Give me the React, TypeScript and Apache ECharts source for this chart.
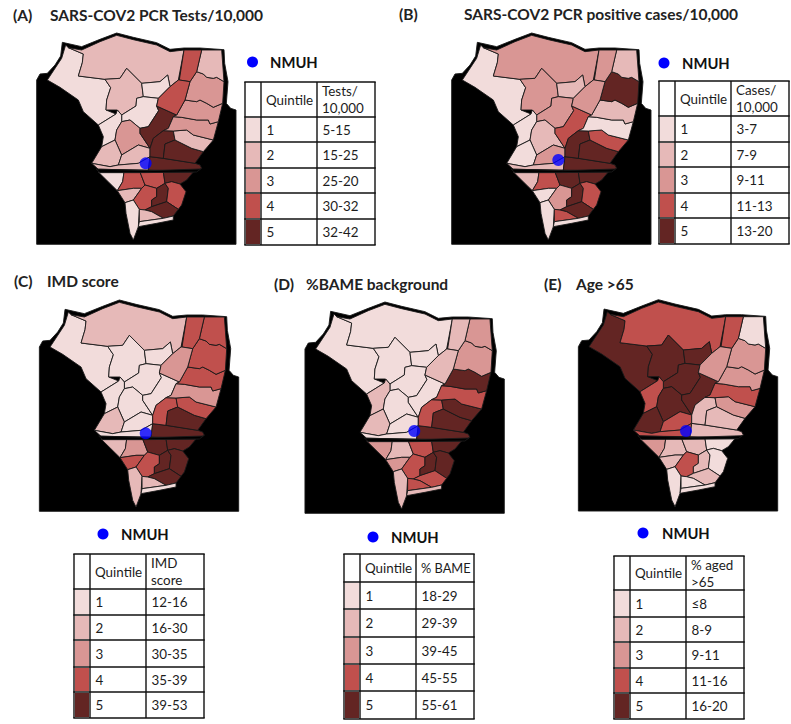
import React, { useEffect, useRef } from "react";
import * as echarts from "echarts";

const COLORS = ["#000000", "#f2dcdb", "#e6b9b8", "#d99694", "#c0504d", "#632523"];

const MASK = [[110,733],[110,240],[120,222],[142,220],[165,195],[182,168],[187,127],[245,140],[300,118],[350,99],[400,112],[470,128],[510,148],[552,144],[600,144],[672,149],[674,190],[684,245],[679,310],[692,325],[708,330],[708,733]];
const RIVER = [[288,507],[445,512],[602,507],[590,516],[420,518],[300,518]];

const REGION_NAMES = ["r1","r2","r3","r4","r5","r6","r7","r8","r9","r10","r11","r12","r13","r14","r15","r16","r17","r18","r19","r20","r21","s1","s2","s3","s4","s5","s6","s7","s8","s9","s10","s11","s12"];
const REGION_RINGS = [
  [[197,135],[205,143],[250,162],[247,188],[235,228],[315,238],[332,263],[320,300],[318,330],[348,342],[295,375],[250,335],[235,300],[180,262],[142,240],[185,175]],
  [[205,143],[245,150],[300,125],[350,106],[400,119],[470,135],[510,155],[552,150],[535,240],[510,260],[503,225],[480,245],[425,250],[380,205],[360,235],[315,238],[235,228],[247,188],[250,162]],
  [[380,205],[425,250],[430,290],[410,295],[408,318],[365,345],[352,330],[318,330],[320,300],[332,263],[315,238],[360,235]],
  [[425,250],[480,245],[503,225],[510,260],[475,295],[430,290]],
  [[430,290],[475,295],[470,318],[476,332],[445,380],[420,385],[390,360],[365,365],[365,345],[408,318],[410,295]],
  [[348,342],[352,330],[365,345],[365,365],[350,390],[345,420],[305,440],[310,410],[295,375]],
  [[390,360],[420,385],[420,400],[450,445],[415,435],[365,465],[345,420],[350,390],[365,365]],
  [[470,318],[530,345],[520,350],[505,385],[490,392],[460,415],[450,445],[420,400],[420,385],[445,380],[476,332]],
  [[305,440],[345,420],[365,465],[355,495],[330,500],[275,490]],
  [[365,465],[415,435],[450,445],[450,470],[415,490],[355,495]],
  [[275,490],[330,500],[355,495],[415,490],[450,470],[445,510],[295,508]],
  [[450,470],[490,475],[585,490],[600,495],[605,505],[585,515],[445,510]],
  [[450,445],[460,415],[490,392],[520,393],[525,420],[495,432],[490,475],[450,470]],
  [[495,432],[525,420],[545,430],[575,445],[610,455],[585,490],[490,475]],
  [[520,393],[560,390],[580,405],[640,420],[610,455],[575,445],[545,430],[525,420]],
  [[520,350],[545,352],[590,360],[625,360],[630,372],[655,365],[640,420],[580,405],[560,390],[520,393],[490,392],[505,385]],
  [[555,300],[590,305],[600,300],[620,310],[640,322],[668,310],[655,365],[630,372],[625,360],[590,360],[545,352],[520,350],[530,345]],
  [[590,215],[610,222],[620,232],[640,235],[650,232],[672,245],[668,310],[640,322],[620,310],[600,300],[590,305],[555,300],[570,245]],
  [[605,150],[665,150],[672,245],[650,232],[640,235],[620,232],[610,222],[590,215]],
  [[552,150],[605,150],[590,215],[570,245],[538,240]],
  [[475,295],[510,260],[535,240],[538,240],[570,245],[555,300],[530,345],[470,318]],
  [[295,516],[372,516],[368,545],[352,572]],
  [[372,516],[420,516],[435,555],[425,565],[400,565],[352,572],[368,545]],
  [[420,516],[490,516],[495,550],[470,565],[435,555]],
  [[490,516],[580,516],[560,540],[540,552],[515,545],[495,550]],
  [[352,572],[400,565],[425,565],[400,600],[375,608]],
  [[425,565],[435,555],[470,565],[470,590],[455,600],[455,620],[435,630],[418,628],[400,600]],
  [[470,565],[495,550],[505,565],[500,605],[455,620],[455,600],[470,590]],
  [[505,565],[495,550],[515,545],[540,552],[558,575],[545,615],[535,628],[500,605]],
  [[455,620],[500,605],[535,628],[520,648],[490,655],[455,635],[435,630]],
  [[375,608],[400,600],[418,628],[415,680],[400,720],[390,700],[378,640]],
  [[418,628],[435,630],[455,635],[490,655],[418,665]],
  [[418,665],[490,655],[520,648],[520,660],[470,670],[415,680]],
];

const QUINTILES_A = [1,2,2,1,1,1,3,5,2,2,2,5,5,5,2,3,3,3,2,4,4,1,4,4,5,2,4,5,4,5,1,2,1];
const QUINTILES_B = [1,3,3,2,3,1,2,4,1,3,2,5,5,5,4,1,2,5,2,3,3,2,4,5,5,1,3,5,4,5,1,4,1];
const QUINTILES_C = [1,2,1,1,1,1,1,1,2,1,1,5,4,5,4,3,4,4,4,4,3,2,3,5,5,4,4,5,5,5,2,2,1];
const QUINTILES_D = [1,1,1,1,1,2,1,1,2,1,1,5,4,5,5,4,5,3,3,2,2,3,2,4,5,3,4,5,5,4,2,4,2];
const QUINTILES_E = [5,4,5,5,5,4,5,5,5,4,4,2,2,2,3,4,3,3,1,4,3,3,2,2,1,2,4,2,1,2,1,1,1];

const QUINTILE_LABELS = ["1","2","3","4","5"];
const RANGES_A = ["5-15","15-25","25-20","30-32","32-42"];
const RANGES_B = ["3-7","7-9","9-11","11-13","13-20"];
const RANGES_C = ["12-16","16-30","30-35","35-39","39-53"];
const RANGES_D = ["18-29","29-39","39-45","45-55","55-61"];
const RANGES_E = ["≤8","8-9","9-11","11-16","16-20"];

const PANELS = [
  { letter:"(A)", title:"SARS-COV2 PCR Tests/10,000", lx:13, ly:15, tx:50, ty:15, off:[0,0], dot:[437,490], q:QUINTILES_A, legend:[252.5,62,270], head:["Tests/","10,000"], ranges:RANGES_A, cols:[245,261,317,375], rows:[82,117,142,168,193,219,245] },
  { letter:"(B)", title:"SARS-COV2 PCR positive cases/10,000", lx:399, ly:14, tx:464, ty:14, off:[415,0], dot:[430,480], q:QUINTILES_B, legend:[664,63,682], head:["Cases/","10,000"], ranges:RANGES_B, cols:[659,675,731,789], rows:[81,116,142,167,193,218,244] },
  { letter:"(C)", title:"IMD score", lx:14, ly:281, tx:47, ty:281, off:[2.7,267], dot:[429,499], q:QUINTILES_C, legend:[103,534,121], head:["IMD","score"], ranges:RANGES_C, cols:[74,90,146,204], rows:[554,589,615,640,667,692,718] },
  { letter:"(D)", title:"%BAME background", lx:274, ly:284, tx:306, ty:284, off:[268.3,269], dot:[438,486], q:QUINTILES_D, legend:[373,537,391], head:["% BAME"], ranges:RANGES_D, cols:[344,360,416,474], rows:[554,582,609,637,664,691,719] },
  { letter:"(E)", title:"Age >65", lx:544, ly:284, tx:576, ty:284, off:[541.7,266.7], dot:[433,493], q:QUINTILES_E, legend:[643,533,662], head:["% aged",">65"], ranges:RANGES_E, cols:[614,630,686,744], rows:[556,590,617,642,668,693,719] },
];

const FONT = "Lato, 'Open Sans', sans-serif";
const INK = "#1c1c1c";

function flip(ring: number[][]) {
  const r = ring.map(([x, y]) => [x, -y]);
  r.push(r[0]);
  return [r];
}

function buildGeo() {
  const feature = (name: string, ring: number[][]) => ({
    type: "Feature",
    properties: { name },
    geometry: { type: "Polygon", coordinates: flip(ring) },
  });
  return {
    type: "FeatureCollection",
    features: [
      feature("mask", MASK),
      ...REGION_NAMES.map((n, i) => feature(n, REGION_RINGS[i])),
      feature("river", RIVER),
    ],
  };
}

function tableGraphics(p: any) {
  const out: any[] = [];
  const [c0, c1, c2, c3] = p.cols;
  const rows = p.rows;
  p.ranges.forEach((range: string, i: number) => {
    const y0 = rows[i + 1], y1 = rows[i + 2], mid = (y0 + y1) / 2;
    out.push({ type: "rect", shape: { x: c0 + 1, y: y0 + 1, width: c1 - c0 - 2, height: y1 - y0 - 2 }, style: { fill: COLORS[i + 1] } });
    out.push({ type: "text", style: { text: QUINTILE_LABELS[i], x: c1 + 5.5, y: mid, font: `13.4px ${FONT}`, fill: INK, verticalAlign: "middle" } });
    out.push({ type: "text", style: { text: range, x: c2 + 5.5, y: mid, font: `13.4px ${FONT}`, fill: INK, verticalAlign: "middle" } });
  });
  const hMid = (rows[0] + rows[1]) / 2;
  out.push({ type: "text", style: { text: "Quintile", x: c1 + 5, y: hMid, font: `13.4px ${FONT}`, fill: INK, verticalAlign: "middle" } });
  p.head.forEach((h: string, i: number) => {
    const y = p.head.length === 1 ? hMid : hMid + (i === 0 ? -8.5 : 8.5);
    const size = p.head.length === 1 ? 12.8 : 13.4;
    out.push({ type: "text", style: { text: h, x: c2 + 5, y, font: `${size}px ${FONT}`, fill: INK, verticalAlign: "middle" } });
  });
  const stroke = { stroke: "#111", lineWidth: 1.4 };
  rows.forEach((y: number) => out.push({ type: "line", shape: { x1: c0 - 0.7, y1: y, x2: c3 + 0.7, y2: y }, style: stroke }));
  p.cols.forEach((x: number) => out.push({ type: "line", shape: { x1: x, y1: rows[0], x2: x, y2: rows[6] }, style: stroke }));
  return out;
}

export default function App() {
  const ref = useRef<HTMLDivElement>(null);
  useEffect(() => {
    echarts.registerMap("nwl", buildGeo() as any);
    const chart = echarts.init(ref.current!, undefined, { renderer: "svg" });
    const cx = (110 + 708) / 6, cy = (99 + 733) / 6;
    const geo = PANELS.map((p) => ({
      map: "nwl",
      roam: false,
      silent: true,
      aspectScale: 1,
      layoutCenter: [cx + p.off[0], cy + p.off[1]],
      layoutSize: (733 - 99) / 3,
      label: { show: false },
      itemStyle: { borderColor: "#1a1a1a", borderWidth: 0.9, areaColor: "#000" },
      emphasis: { disabled: true },
      select: { disabled: true },
    }));
    const maps = PANELS.map((p, i) => ({
      type: "map",
      geoIndex: i,
      silent: true,
      data: [
        { name: "mask", value: 0 },
        ...REGION_NAMES.map((n, k) => ({ name: n, value: p.q[k] })),
        { name: "river", value: 0 },
      ],
    }));
    const dots = PANELS.map((p, i) => ({
      type: "scatter",
      coordinateSystem: "geo",
      geoIndex: i,
      silent: true,
      symbolSize: 12,
      itemStyle: { color: "#0000ff" },
      data: [[p.dot[0], -p.dot[1]]],
      z: 5,
    }));
    const graphic: any[] = [];
    PANELS.forEach((p) => {
      graphic.push({ type: "text", style: { text: p.letter, x: p.lx, y: p.ly, font: `bold 15.5px ${FONT}`, fill: "#222", verticalAlign: "middle" } });
      graphic.push({ type: "text", style: { text: p.title, x: p.tx, y: p.ty, font: `bold 15.5px ${FONT}`, fill: "#222", verticalAlign: "middle" } });
      graphic.push({ type: "circle", shape: { cx: p.legend[0], cy: p.legend[1], r: 5.5 }, style: { fill: "#0000ff" } });
      graphic.push({ type: "text", style: { text: "NMUH", x: p.legend[2], y: p.legend[1], font: `bold 14.8px ${FONT}`, fill: "#111", verticalAlign: "middle" } });
      graphic.push(...tableGraphics(p));
    });
    chart.setOption({
      animation: false,
      backgroundColor: "#ffffff",
      geo,
      visualMap: {
        type: "piecewise",
        show: false,
        seriesIndex: [0, 1, 2, 3, 4],
        pieces: COLORS.map((color, value) => ({ value, color })),
      },
      series: [...maps, ...dots],
      graphic,
    } as any);
    return () => chart.dispose();
  }, []);
  return <div ref={ref} style={{ position: "absolute", left: 0, top: 0, width: 791, height: 724 }} />;
}
